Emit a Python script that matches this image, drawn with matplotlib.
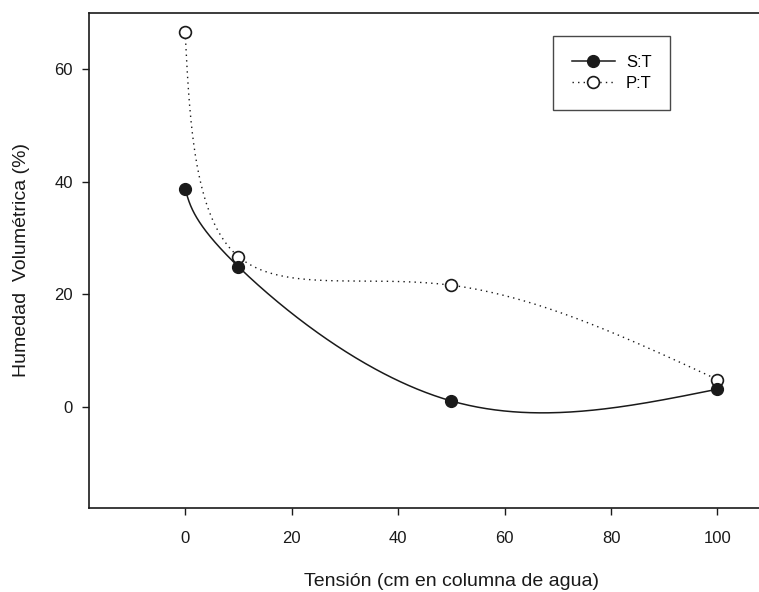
import numpy as np
import matplotlib
matplotlib.use("Agg")
import matplotlib.pyplot as plt
from matplotlib.lines import Line2D

plt.rcParams['font.family'] = ['Liberation Sans', 'DejaVu Sans']

# data
tension = [0, 10, 50, 100]
st_values = [38.8, 24.9, 1.0, 3.1]     # S:T
pt_values = [66.6, 26.7, 21.6, 4.8]    # P:T

# pixels per data unit on the page, the smoothing is done on the page
sx, sy = 5.325, 5.62


def natural_1d(p, n):
    """Natural cubic spline of values p over a uniform parameter 0..k-1."""
    p = np.asarray(p, float)
    k = len(p)
    A = np.zeros((k, k))
    b = np.zeros(k)
    A[0, 0], A[0, 1] = 2, 1
    b[0] = 3 * (p[1] - p[0])
    A[-1, -2], A[-1, -1] = 1, 2
    b[-1] = 3 * (p[-1] - p[-2])
    for i in range(1, k - 1):
        A[i, i - 1], A[i, i], A[i, i + 1] = 1, 4, 1
        b[i] = 3 * (p[i + 1] - p[i - 1])
    m = np.linalg.solve(A, b)
    out = []
    for i in range(k - 1):
        t = np.linspace(0, 1, n, endpoint=(i == k - 2))
        h00 = 2 * t ** 3 - 3 * t ** 2 + 1
        h10 = t ** 3 - 2 * t ** 2 + t
        h01 = -2 * t ** 3 + 3 * t ** 2
        h11 = t ** 3 - t ** 2
        out.append(h00 * p[i] + h10 * m[i] + h01 * p[i + 1] + h11 * m[i + 1])
    return np.concatenate(out)


def smooth(x, y, n=120):
    xs = natural_1d(np.asarray(x) * sx, n) / sx
    ys = natural_1d(np.asarray(y) * sy, n) / sy
    return xs, ys


fig = plt.figure(figsize=(7.59, 5.92), dpi=100)
ax = fig.add_axes([0.1177, 0.1424, 0.8823, 0.8351])

ink = "#1a1a1a"

xs, ys = smooth(tension, st_values)
ax.plot(xs, ys, color=ink, lw=1.1, zorder=2)
ax.plot(tension, st_values, "o", color=ink, ms=8.5, zorder=4)

xs, ys = smooth(tension, pt_values)
ax.plot(xs, ys, color=ink, lw=1.0, linestyle=(0, (1, 3)), zorder=1)
ax.plot(tension, pt_values, "o", mfc="white", mec=ink, mew=1.2, ms=8.5, zorder=3)

ax.set_xlim(-18, 107.8)
ax.set_ylim(-18, 70)
ax.set_xticks([0, 20, 40, 60, 80, 100])
ax.set_yticks([0, 20, 40, 60])
ax.tick_params(direction="out", length=5, width=1, labelsize=12, color=ink, labelcolor=ink)
ax.tick_params(axis="x", pad=12)
ax.tick_params(axis="y", pad=7)
ax.spines["right"].set_visible(False)
for s in ["left", "top", "bottom"]:
    ax.spines[s].set_linewidth(1.2)
    ax.spines[s].set_color(ink)

fig.text(0.5 * (185 + 717) / 759, 1 - 581 / 592, "Tensión (cm en columna de agua)",
         ha="center", va="center", fontsize=14, color=ink)
fig.text(22 / 759, 1 - 260 / 592, "Humedad  Volumétrica (%)", rotation=90,
         ha="center", va="center", fontsize=14, color=ink)

handles = [
    Line2D([], [], color=ink, lw=1.1, marker="o", ms=8.5),
    Line2D([], [], color=ink, lw=1.0, linestyle=(0, (1, 3)), marker="o",
           mfc="white", mec=ink, mew=1.2, ms=8.5),
]
leg = ax.legend(handles, ["S:T", "P:T"], loc="upper left",
                bbox_to_anchor=((553 - 89.3) / (759 - 89.3), 1 - (36 - 13.3) / (507.7 - 13.3)),
                borderaxespad=0, fontsize=12, frameon=True, fancybox=False, edgecolor=ink,
                handlelength=2.6, handletextpad=0.66, borderpad=1.12, labelspacing=0.38)
leg.get_frame().set_linewidth(1.0)

fig.savefig("out.png", dpi=100)
